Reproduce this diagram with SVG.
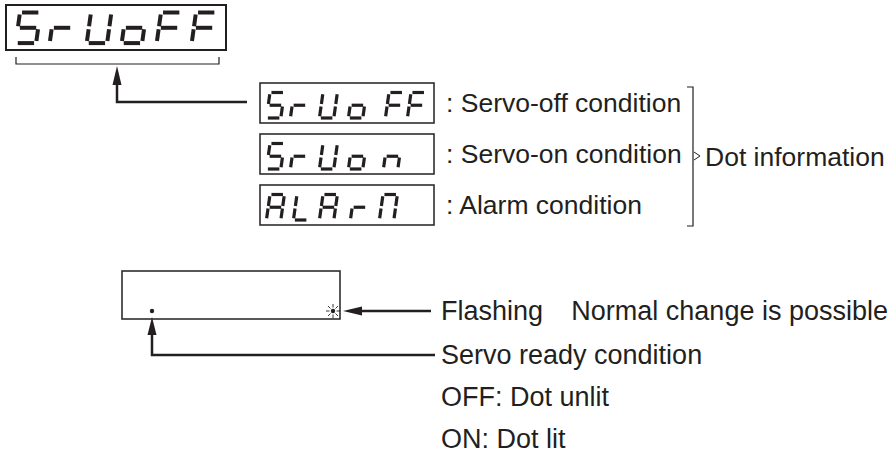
<svg xmlns="http://www.w3.org/2000/svg" width="890" height="453" viewBox="0 0 890 453">
<style>
.t{font-family:"Liberation Sans",Arial,Helvetica,sans-serif;font-size:26.5px;fill:#231f20}
.tb{font-family:"Liberation Sans",Arial,Helvetica,sans-serif;font-size:27px;fill:#231f20}
.box{fill:#fff;stroke:#231f20;stroke-width:1.5}
.big{fill:none;stroke:#231f20;stroke-width:4}
.sm{fill:none;stroke:#231f20;stroke-width:3.2}
.ln{fill:none;stroke:#231f20;stroke-width:2.5}
.thin{fill:none;stroke:#231f20;stroke-width:1.2}
.ah{fill:#231f20}
.ray{stroke:#231f20;stroke-width:0.9}
</style>
<defs>
<path id="sa" d="M2,0H18" vector-effect="non-scaling-stroke"/>
<path id="sb" d="M20,2V13.5" vector-effect="non-scaling-stroke"/>
<path id="sc" d="M20,16.5V28" vector-effect="non-scaling-stroke"/>
<path id="sd" d="M2,30H18" vector-effect="non-scaling-stroke"/>
<path id="se" d="M0,16.5V28" vector-effect="non-scaling-stroke"/>
<path id="sf" d="M0,2V13.5" vector-effect="non-scaling-stroke"/>
<path id="sg" d="M2,15H18" vector-effect="non-scaling-stroke"/>
<g id="c5"><use href="#sa"/><use href="#sf"/><use href="#sg"/><use href="#sc"/><use href="#sd"/></g>
<g id="cr"><use href="#sg"/><use href="#se"/></g>
<g id="cU"><use href="#sb"/><use href="#sc"/><use href="#sd"/><use href="#se"/><use href="#sf"/></g>
<g id="co"><use href="#sg"/><use href="#sc"/><use href="#sd"/><use href="#se"/></g>
<g id="cF"><use href="#sa"/><use href="#sf"/><use href="#sg"/><use href="#se"/></g>
<g id="cn"><use href="#sg"/><use href="#sc"/><use href="#se"/></g>
<g id="cA"><use href="#sa"/><use href="#sb"/><use href="#sc"/><use href="#se"/><use href="#sf"/><use href="#sg"/></g>
<g id="cL"><use href="#sf"/><use href="#se"/><use href="#sd"/></g>
<g id="cM"><use href="#sa"/><use href="#sb"/><use href="#sc"/><use href="#se"/><use href="#sf"/></g>
</defs>

<g id="display-main">
<rect x="6" y="5" width="220" height="45" fill="#fff" stroke="#231f20" stroke-width="2"/>
<g class="big">
<use href="#c5" transform="translate(20,12.5) skewX(-8) scale(1.02,1.02)"/>
<use href="#cr" transform="translate(54,12.5) skewX(-8) scale(1.02,1.02)"/>
<use href="#cU" transform="translate(91,12.5) skewX(-8) scale(1.02,1.02)"/>
<use href="#co" transform="translate(126,12.5) skewX(-8) scale(1.02,1.02)"/>
<use href="#cF" transform="translate(161,12.5) skewX(-8) scale(1.02,1.02)"/>
<use href="#cF" transform="translate(196,12.5) skewX(-8) scale(1.02,1.02)"/>
</g>
<path class="thin" d="M16,57V64H219V57"/>
</g>

<g id="servo-off">
<rect class="box" x="260" y="83" width="174" height="40"/>
<g class="sm">
<use href="#c5" transform="translate(270,92.5) skewX(-8) scale(0.72,0.85)"/>
<use href="#cr" transform="translate(294,92.5) skewX(-8) scale(0.72,0.85)"/>
<use href="#cU" transform="translate(323,92.5) skewX(-8) scale(0.72,0.85)"/>
<use href="#co" transform="translate(352,92.5) skewX(-8) scale(0.72,0.85)"/>
<use href="#cF" transform="translate(389,92.5) skewX(-8) scale(0.72,0.85)"/>
<use href="#cF" transform="translate(411,92.5) skewX(-8) scale(0.72,0.85)"/>
</g>
<text class="t" x="446" y="112">: Servo-off condition</text>
</g>

<g id="servo-on">
<rect class="box" x="260" y="134" width="174" height="40"/>
<g class="sm">
<use href="#c5" transform="translate(270,143.5) skewX(-8) scale(0.72,0.85)"/>
<use href="#cr" transform="translate(294,143.5) skewX(-8) scale(0.72,0.85)"/>
<use href="#cU" transform="translate(323,143.5) skewX(-8) scale(0.72,0.85)"/>
<use href="#co" transform="translate(352,143.5) skewX(-8) scale(0.72,0.85)"/>
<use href="#cn" transform="translate(387,143.5) skewX(-8) scale(0.72,0.85)"/>
</g>
<text class="t" x="446" y="163">: Servo-on condition</text>
</g>

<g id="alarm">
<rect class="box" x="260" y="185" width="174" height="40"/>
<g class="sm">
<use href="#cA" transform="translate(270,194.5) skewX(-8) scale(0.72,0.85)"/>
<use href="#cL" transform="translate(297,194.5) skewX(-8) scale(0.72,0.85)"/>
<use href="#cA" transform="translate(323,194.5) skewX(-8) scale(0.72,0.85)"/>
<use href="#cr" transform="translate(354,194.5) skewX(-8) scale(0.72,0.85)"/>
<use href="#cM" transform="translate(383,194.5) skewX(-8) scale(0.72,0.85)"/>
</g>
<text class="t" x="446" y="214">: Alarm condition</text>
</g>

<g id="dot-information">
<path class="thin" d="M687,87H693V226H687"/>
<path fill="none" stroke="#231f20" stroke-width="1" d="M694,152L700,156L694,160"/>
<text class="t" x="705" y="166">Dot information</text>
</g>

<g id="display-dots">
<rect class="box" x="122" y="271" width="218" height="48"/>
<circle cx="152" cy="311" r="2.2" fill="#231f20"/>
<circle cx="333" cy="311" r="2.2" fill="#231f20"/>
<g class="ray">
<line x1="336.5" y1="311" x2="340" y2="311"/>
<line x1="329.5" y1="311" x2="326" y2="311"/>
<line x1="333" y1="307.5" x2="333" y2="304"/>
<line x1="333" y1="314.5" x2="333" y2="318"/>
<line x1="335.5" y1="308.5" x2="338" y2="306"/>
<line x1="330.5" y1="308.5" x2="328" y2="306"/>
<line x1="335.5" y1="313.5" x2="338" y2="316"/>
<line x1="330.5" y1="313.5" x2="328" y2="316"/>
</g>
</g>

<g id="flashing-label">
<text class="tb" x="441" y="320">Flashing</text>
<text class="tb" x="888" y="320" text-anchor="end">Normal change is possible</text>
</g>

<g id="servo-ready-label">
<text class="tb" x="441" y="364">Servo ready condition</text>
<text class="tb" x="441" y="406">OFF: Dot unlit</text>
<text class="tb" x="441" y="448">ON: Dot lit</text>
</g>

<g id="connectors">
<polygon class="ah" points="117,66 112.5,85 121.5,85"/>
<path class="ln" d="M117,84V102H247"/>
<polygon class="ah" points="343,311 362,306.5 362,315.5"/>
<path class="ln" d="M361,311H431"/>
<polygon class="ah" points="152,317 147.5,335 156.5,335"/>
<path class="ln" d="M152,334V355H435"/>
</g>
</svg>
